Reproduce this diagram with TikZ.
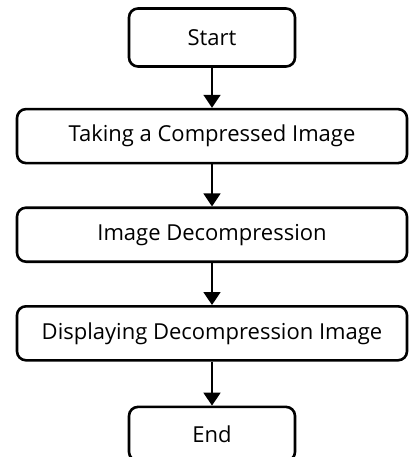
\documentclass[tikz,border=0pt]{standalone}
\usepackage{fontspec}
\setmainfont{Open Sans}
\usepackage{tikz}
\usetikzlibrary{positioning, arrows.meta}

\tikzset{
  stepbox/.style={draw=black, line width=2.6pt, rounded corners=9pt, fill=white,
    minimum width=390pt, minimum height=54pt, inner sep=0pt, font=\fontsize{22}{26}\selectfont},
  termbox/.style={stepbox, minimum width=166pt},
  flowarrow/.style={line width=1.8pt, -{Triangle[length=13pt, width=17pt]}}
}

\begin{document}
\begin{tikzpicture}[x=1pt, y=1pt, node distance=42pt]
  \useasboundingbox (0,0) rectangle (410,-457);
  % flow steps
  \node[termbox, minimum height=58pt] (start) at (212,-37.5) {Start};
  \node[stepbox, below=40pt of start] (taking) {Taking a Compressed Image};
  \node[stepbox, below=of taking] (decomp) {Image Decompression};
  \node[stepbox, below=of decomp] (display) {Displaying Decompression Image};
  \node[termbox, below=44pt of display] (finish) {End};
  % connectors
  \draw[flowarrow] (start) -- (taking);
  \draw[flowarrow] (taking) -- (decomp);
  \draw[flowarrow] (decomp) -- (display);
  \draw[flowarrow] (display) -- (finish);
\end{tikzpicture}
\end{document}
